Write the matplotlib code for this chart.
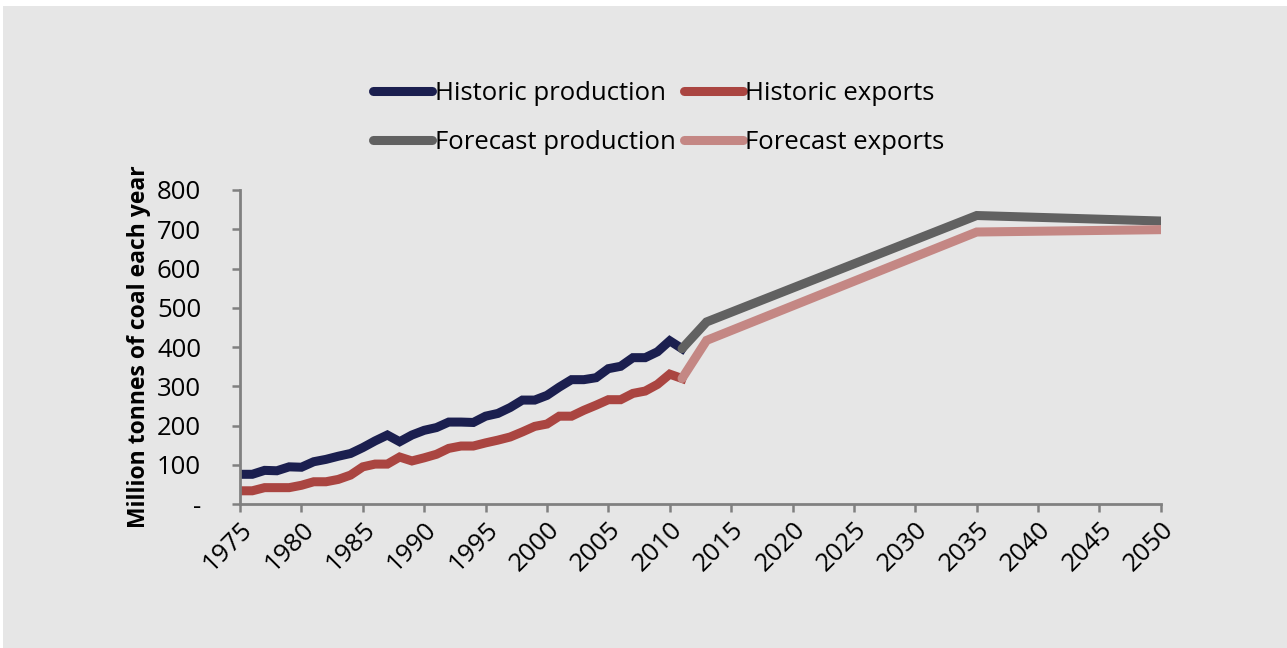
import matplotlib.pyplot as plt
from matplotlib.patches import Rectangle

plt.rcParams['font.family'] = ['Open Sans', 'DejaVu Sans']

hist_years = list(range(1975, 2012))
hist_production = [76, 76, 86, 85, 95, 94, 108, 114, 122, 129, 144, 161, 176, 159, 176,
                   188, 195, 209, 209, 208, 224, 231, 246, 265, 265, 277, 298, 317, 317,
                   322, 345, 351, 373, 373, 388, 416, 396]
hist_exports = [34, 34, 42, 42, 42, 48, 57, 57, 63, 74, 95, 102, 102, 120, 110,
                118, 127, 142, 148, 148, 156, 163, 171, 184, 198, 204, 224, 224, 239,
                252, 266, 266, 282, 288, 305, 331, 320]

fc_years = [2011, 2013, 2035, 2050]
fc_production = [396, 464, 735, 721]
fc_exports = [320, 417, 693, 699]

yticks = [0, 100, 200, 300, 400, 500, 600, 700, 800]
ylabels = ['-', '100', '200', '300', '400', '500', '600', '700', '800']
xticks = list(range(1975, 2051, 5))

fig = plt.figure(figsize=(12.87, 6.48), dpi=100)
fig.patch.set_facecolor('white')
fig.patches.append(Rectangle((3/1287, 0), 1, 1 - 6/648, transform=fig.transFigure,
                             facecolor='#e6e6e6', edgecolor='none', zorder=-5))

ax = fig.add_axes([0.1865, 0.222, 0.7155, 0.4848])
ax.set_facecolor('none')

ax.plot(hist_years, hist_production, color='#1b1f4f', lw=6.5, label='Historic production',
        solid_joinstyle='miter')
ax.plot(hist_years, hist_exports, color='#aa4541', lw=6.5, label='Historic exports',
        solid_joinstyle='miter')
ax.plot(fc_years, fc_production, color='#616161', lw=6.5, label='Forecast production',
        solid_capstyle='round', solid_joinstyle='miter')
ax.plot(fc_years, fc_exports, color='#c48784', lw=6.5, label='Forecast exports',
        solid_capstyle='round', solid_joinstyle='miter')

ax.set_xlim(1975, 2050)
ax.set_ylim(0, 800)
ax.set_yticks(yticks)
ax.set_yticklabels(ylabels)
ax.set_xticks(xticks)
ax.set_xticklabels([str(x) for x in xticks], rotation=45, ha='right', rotation_mode='anchor')
ax.tick_params(axis='both', labelsize=18.5, color='#808080', width=1.8, length=6)
ax.tick_params(axis='y', pad=22)
ax.tick_params(axis='x', pad=3)

for s in ['top', 'right']:
    ax.spines[s].set_visible(False)
for s in ['left', 'bottom']:
    ax.spines[s].set_color('#808080')
    ax.spines[s].set_linewidth(2)

ax.set_ylabel('Million tonnes of coal each year', fontsize=16.5, fontweight='bold', labelpad=4)

handles, labels = ax.get_legend_handles_labels()
order = [0, 2, 1, 3]
leg = fig.legend([handles[i] for i in order], [labels[i] for i in order], ncol=2,
                 loc='center', bbox_to_anchor=(0.512, 0.818), frameon=False,
                 fontsize=18.5, handlelength=2.3, handletextpad=0.1, columnspacing=0.3,
                 labelspacing=0.95)
for line in leg.get_lines():
    line.set_solid_capstyle('round')

fig.savefig('out.png', dpi=100)
